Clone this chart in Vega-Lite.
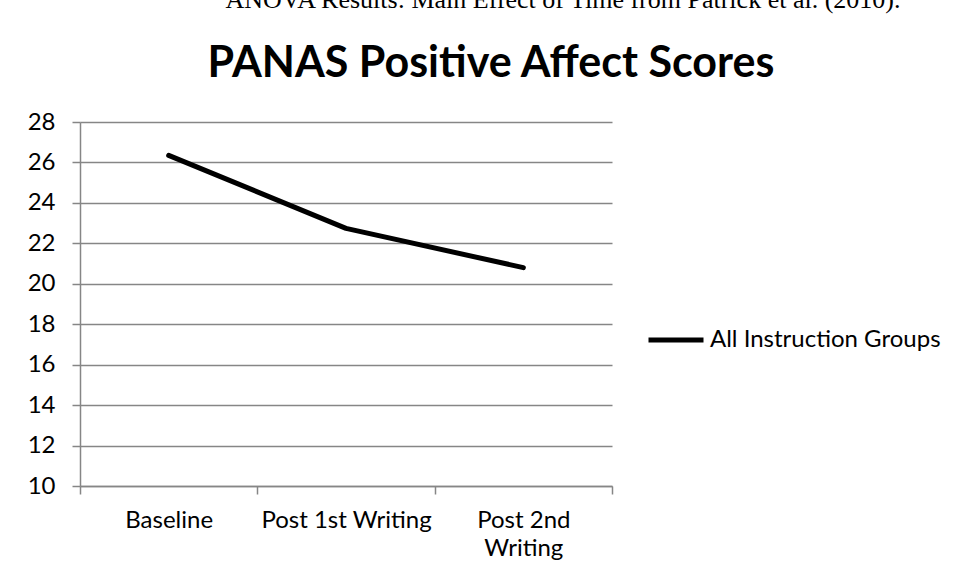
{
  "$schema": "https://vega.github.io/schema/vega-lite/v6.json",
  "width": 532,
  "height": 364,
  "autosize": {"type": "none"},
  "padding": {"left": 80, "top": 122, "right": 344, "bottom": 91},
  "background": "white",
  "data": {
    "values": [
      {"time": "Baseline", "score": 26.35, "group": "All Instruction Groups"},
      {"time": "Post 1st Writing", "score": 22.74, "group": "All Instruction Groups"},
      {"time": "Post 2nd Writing", "score": 20.8, "group": "All Instruction Groups"}
    ]
  },
  "mark": {"type": "line", "strokeWidth": 5, "strokeCap": "round", "strokeJoin": "round"},
  "encoding": {
    "x": {
      "field": "time",
      "type": "nominal",
      "sort": null,
      "scale": {"paddingInner": 0, "paddingOuter": 0},
      "axis": {
        "title": "ANOVA Results: Main Effect of Time from Patrick et al. (2010).",
        "titleAngle": 0,
        "titleAlign": "left",
        "titleBaseline": "alphabetic",
        "titleX": 145,
        "titleY": -479,
        "titleFont": "Liberation Serif",
        "titleFontSize": 26,
        "titleFontWeight": "normal",
        "titleColor": "black",
        "labelAngle": 0,
        "tickBand": "extent",
        "tickSize": 8,
        "tickColor": "#868686",
        "domainColor": "#868686",
        "domainWidth": 1.5,
        "tickWidth": 1.5,
        "labelFont": "Lato",
        "labelFontSize": 24,
        "labelColor": "black",
        "labelPadding": 14,
        "labelLineHeight": 28,
        "labelExpr": "datum.label == 'Post 2nd Writing' ? ['Post 2nd', 'Writing'] : datum.label",
        "grid": false
      }
    },
    "y": {
      "field": "score",
      "type": "quantitative",
      "scale": {"domain": [10, 28], "nice": false, "zero": false},
      "axis": {
        "values": [10, 12, 14, 16, 18, 20, 22, 24, 26, 28],
        "title": "PANAS Positive Affect Scores",
        "titleAngle": 0,
        "titleAlign": "left",
        "titleBaseline": "alphabetic",
        "titleX": 127,
        "titleY": -46,
        "titleFont": "Lato",
        "titleFontSize": 43,
        "titleFontWeight": "bold",
        "titleColor": "black",
        "tickSize": 8,
        "tickColor": "#868686",
        "tickWidth": 1.5,
        "domainColor": "#868686",
        "domainWidth": 1.5,
        "gridColor": "#868686",
        "gridWidth": 1.5,
        "labelFont": "Lato",
        "labelFontSize": 24,
        "labelColor": "black",
        "labelPadding": 17
      }
    },
    "color": {
      "field": "group",
      "type": "nominal",
      "scale": {"range": ["black"]},
      "legend": {
        "title": null,
        "orient": "none",
        "legendX": 566,
        "legendY": 188,
        "symbolType": "stroke",
        "symbolSize": 3025,
        "symbolStrokeWidth": 5,
        "symbolStrokeColor": "black",
        "labelFont": "Lato",
        "labelFontSize": 24,
        "labelColor": "black",
        "labelOffset": 4,
        "labelLimit": 0
      }
    }
  },
  "config": {"view": {"stroke": null}}
}
